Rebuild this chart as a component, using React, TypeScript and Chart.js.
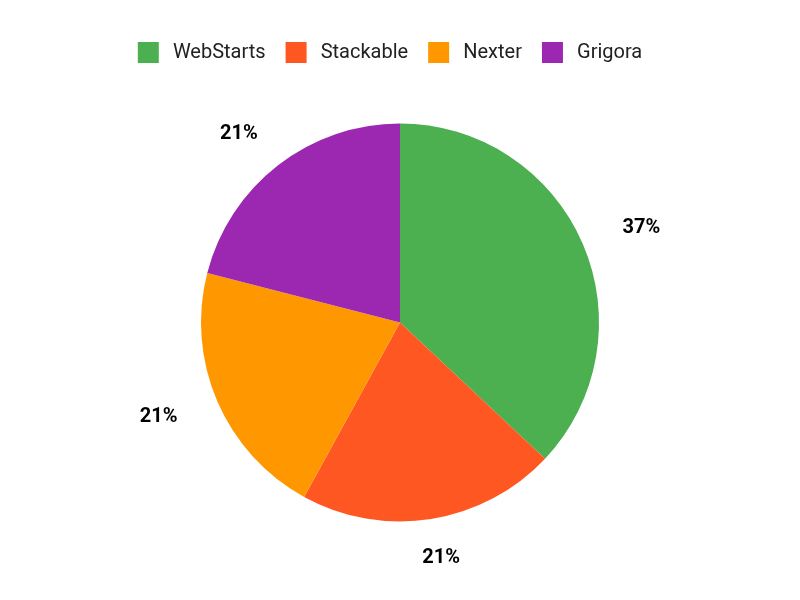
import React, { useEffect, useRef } from 'react';
import { Chart, registerables, Plugin } from 'chart.js';

Chart.register(...registerables);

const labels = ['WebStarts', 'Stackable', 'Nexter', 'Grigora'];
const shares = [37, 21, 21, 21];
const colors = ['#4CAF50', '#FF5722', '#FF9800', '#9C27B0'];

// percentage labels drawn outside each slice
const outsideLabels: Plugin<'pie'> = {
  id: 'outsideLabels',
  afterLayout(chart) {
    // nudge the legend row a bit to the left
    const legend: any = chart.legend;
    if (legend) {
      legend.left -= 10;
      legend.right -= 10;
    }
  },
  afterDraw(chart) {
    const { ctx } = chart;
    const meta = chart.getDatasetMeta(0);
    const values = chart.data.datasets[0].data as number[];
    const total = values.reduce((a, b) => a + b, 0);
    ctx.save();
    ctx.font = 'bold 20px Roboto';
    ctx.fillStyle = '#000';
    ctx.textAlign = 'center';
    ctx.textBaseline = 'middle';
    meta.data.forEach((el: any, i) => {
      const { x, y, startAngle, endAngle, outerRadius } = el.getProps(
        ['x', 'y', 'startAngle', 'endAngle', 'outerRadius'],
        true
      );
      const mid = (startAngle + endAngle) / 2;
      const lx = x + Math.cos(mid) * (outerRadius + 64);
      const ly = y + Math.sin(mid) * (outerRadius + 39);
      ctx.fillText(`${Math.round((values[i] / total) * 100)}%`, lx, ly);
    });
    ctx.restore();
  },
};

const PieChart: React.FC = () => {
  const chartRef = useRef<HTMLCanvasElement>(null);
  const chartInstance = useRef<Chart | null>(null);

  useEffect(() => {
    if (!chartRef.current) return;
    if (chartInstance.current) {
      chartInstance.current.destroy();
    }
    const ctx = chartRef.current.getContext('2d');
    if (!ctx) return;

    chartInstance.current = new Chart(ctx, {
      type: 'pie',
      data: {
        labels,
        datasets: [
          {
            data: shares,
            backgroundColor: colors,
            borderWidth: 0,
            radius: 199,
          },
        ],
      },
      options: {
        responsive: true,
        maintainAspectRatio: false,
        animation: false,
        layout: {
          padding: { top: 22, bottom: 28 },
        },
        plugins: {
          legend: {
            position: 'top',
            labels: {
              boxWidth: 21,
              boxHeight: 21,
              padding: 20,
              color: '#222',
              font: { family: 'Roboto', size: 20 },
              generateLabels: (chart) =>
                Chart.overrides.pie.plugins.legend.labels
                  .generateLabels(chart)
                  .map((item) => ({ ...item, text: '\u2009' + item.text })),
            },
          },
          tooltip: { enabled: false },
        },
      },
      plugins: [outsideLabels],
    });

    return () => {
      if (chartInstance.current) {
        chartInstance.current.destroy();
        chartInstance.current = null;
      }
    };
  }, []);

  return <canvas ref={chartRef} />;
};

export default function App() {
  useEffect(() => {
    document.body.style.margin = '0';
  }, []);
  return (
    <div style={{ width: 800, height: 600, position: 'relative', background: '#fff' }}>
      <PieChart />
    </div>
  );
}
